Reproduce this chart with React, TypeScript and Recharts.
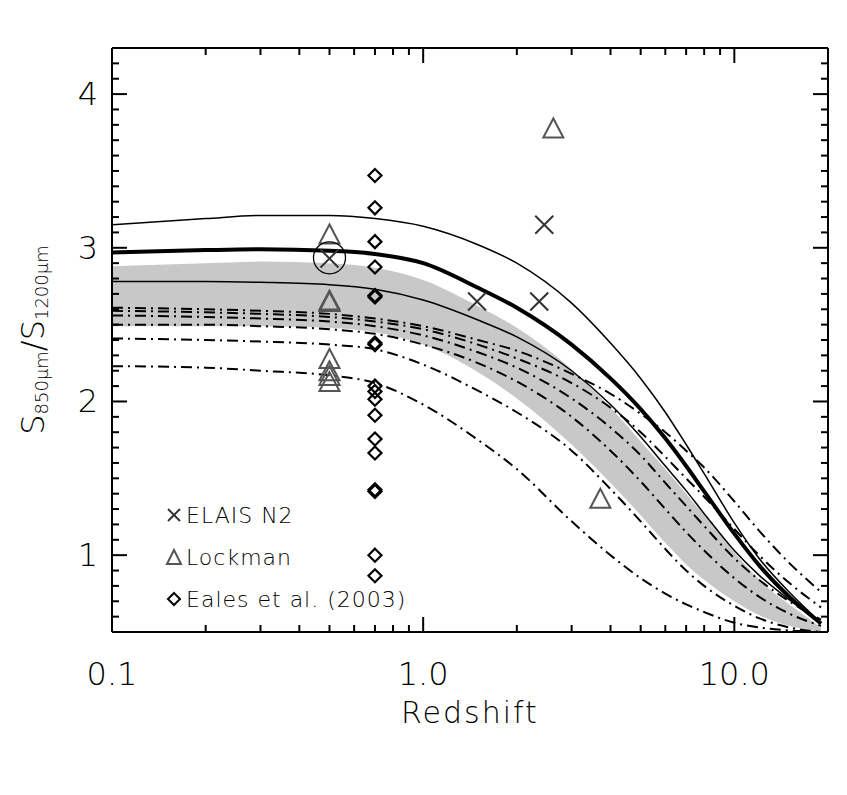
import React from 'react';
import { ComposedChart, Line, Area, Scatter, XAxis, YAxis, Legend } from 'recharts';

// Redshift sample points for the model curves
const Z = [0.1, 0.2, 0.3, 0.5, 0.7, 1, 1.5, 2, 3, 4, 5, 6, 7, 8, 10, 12, 15, 19];

// Model curves (S850/S1200 vs redshift)
const thinUpper = [3.15, 3.19, 3.21, 3.21, 3.19, 3.14, 3.02, 2.9, 2.64, 2.38, 2.15, 1.93, 1.72, 1.53, 1.21, 0.98, 0.76, 0.56];
const thickMid = [2.97, 2.985, 2.99, 2.98, 2.96, 2.9, 2.74, 2.61, 2.37, 2.15, 1.95, 1.76, 1.58, 1.415, 1.14, 0.935, 0.73, 0.555];
const thinLower = [2.78, 2.78, 2.775, 2.76, 2.73, 2.66, 2.53, 2.42, 2.2, 1.98, 1.77, 1.58, 1.42, 1.27, 1.03, 0.87, 0.71, 0.56];
const bandUpper = [2.88, 2.9, 2.91, 2.9, 2.87, 2.79, 2.62, 2.48, 2.21, 1.96, 1.74, 1.56, 1.4, 1.26, 1.02, 0.84, 0.68, 0.53];
const bandLower = [2.49, 2.49, 2.49, 2.48, 2.45, 2.37, 2.19, 2.02, 1.72, 1.47, 1.26, 1.08, 0.94, 0.84, 0.7, 0.61, 0.54, 0.5];
const dashDot1 = [2.61, 2.6, 2.59, 2.57, 2.54, 2.49, 2.4, 2.33, 2.18, 2.05, 1.92, 1.8, 1.68, 1.57, 1.35, 1.16, 0.95, 0.76];
const dashDot2 = [2.59, 2.58, 2.57, 2.55, 2.52, 2.47, 2.37, 2.28, 2.12, 1.96, 1.8, 1.64, 1.5, 1.38, 1.17, 1.0, 0.82, 0.66];
const dashDot3 = [2.56, 2.55, 2.54, 2.52, 2.49, 2.43, 2.32, 2.22, 2.02, 1.83, 1.65, 1.47, 1.32, 1.19, 0.98, 0.84, 0.7, 0.58];
const dashDot4 = [2.5, 2.5, 2.49, 2.47, 2.44, 2.37, 2.25, 2.13, 1.9, 1.68, 1.48, 1.3, 1.15, 1.03, 0.85, 0.73, 0.62, 0.54];
const dashDot5 = [2.41, 2.4, 2.39, 2.37, 2.34, 2.24, 2.07, 1.93, 1.68, 1.43, 1.22, 1.04, 0.9, 0.8, 0.67, 0.59, 0.53, 0.5];
const dashDot6 = [2.23, 2.22, 2.2, 2.17, 2.12, 1.98, 1.75, 1.56, 1.22, 1.0, 0.85, 0.75, 0.68, 0.63, 0.56, 0.53, 0.51, 0.5];

// Observations
const elaisZ = [0.5, 1.49, 2.36, 2.45];
const elaisR = [2.93, 2.65, 2.65, 3.15];
const lockmanZ = [0.5, 0.5, 0.5, 0.5, 0.5, 0.5, 0.5, 2.62, 3.71];
const lockmanR = [3.08, 2.65, 2.64, 2.27, 2.19, 2.16, 2.12, 3.77, 1.36];
const ealesZ = 0.7;
const ealesR = [3.47, 3.26, 3.04, 2.875, 2.68, 2.69, 2.37, 2.38, 2.1, 2.065, 2.015, 1.91, 1.756, 1.665, 1.415, 1.425, 1.0, 0.866];
const circledZ = [0.5];
const circledR = [2.935];

// Axes
const X_MAJOR = [0.1, 1, 10];
const X_MAJOR_LABELS = ['0.1', '1.0', '10.0'];
const X_TICKS = [0.1, 0.2, 0.3, 0.4, 0.5, 0.6, 0.7, 0.8, 0.9, 1, 2, 3, 4, 5, 6, 7, 8, 9, 10];
const Y_MAJOR = [1, 2, 3, 4];
const Y_MAJOR_LABELS = ['1', '2', '3', '4'];
const Y_TICKS: number[] = [];
for (let i = 6; i <= 43; i++) Y_TICKS.push(i / 10);

const FONT = '"DejaVu Sans", "Liberation Sans", sans-serif';
const FW = 200;

const rows = (ys: number[]) => Z.map((z, i) => ({ z, y: ys[i] }));
const bandRows = Z.map((z, i) => ({ z, band: [bandLower[i], bandUpper[i]] }));
const elaisRows = elaisZ.map((z, i) => ({ z, y: elaisR[i] }));
const lockmanRows = lockmanZ.map((z, i) => ({ z, y: lockmanR[i] }));
const ealesRows = ealesR.map((y) => ({ z: ealesZ, y }));
const circledRows = circledZ.map((z, i) => ({ z, y: circledR[i] }));

const isMajor = (v: number, list: number[]) => list.some((m) => Math.abs(m - v) < 1e-9);

const XTickBottom = (p: any) => {
  const { x, y, payload } = p;
  const idx = X_MAJOR.findIndex((m) => Math.abs(m - payload.value) < 1e-9);
  const major = idx >= 0;
  return (
    <g>
      <line x1={x} x2={x} y1={y} y2={y - (major ? 15 : 7)} stroke="#000" strokeWidth={2} />
      {major && (
        <text x={x} y={y + 53} textAnchor="middle" fontSize={32} fontWeight={FW} fontFamily={FONT} fill="#000">
          {X_MAJOR_LABELS[idx]}
        </text>
      )}
    </g>
  );
};

const XTickTop = (p: any) => {
  const { x, y, payload } = p;
  const major = isMajor(payload.value, X_MAJOR);
  return <line x1={x} x2={x} y1={y} y2={y + (major ? 15 : 7)} stroke="#000" strokeWidth={2} />;
};

const YTickLeft = (p: any) => {
  const { x, y, payload } = p;
  const idx = Y_MAJOR.findIndex((m) => Math.abs(m - payload.value) < 1e-9);
  const major = idx >= 0;
  return (
    <g>
      <line x1={x} x2={x + (major ? 15 : 7)} y1={y} y2={y} stroke="#000" strokeWidth={2} />
      {major && (
        <text x={x - 14} y={y + 11} textAnchor="end" fontSize={32} fontWeight={FW} fontFamily={FONT} fill="#000">
          {Y_MAJOR_LABELS[idx]}
        </text>
      )}
    </g>
  );
};

const YTickRight = (p: any) => {
  const { x, y, payload } = p;
  const major = isMajor(payload.value, Y_MAJOR);
  return <line x1={x} x2={x - (major ? 15 : 7)} y1={y} y2={y} stroke="#000" strokeWidth={2} />;
};

const XTitle = (p: any) => {
  const vb = p.viewBox || {};
  return (
    <text
      x={vb.x + vb.width / 2}
      y={vb.y + 91}
      textAnchor="middle"
      fontSize={30}
      fontWeight={FW}
      letterSpacing={2}
      fontFamily={FONT}
      fill="#000"
    >
      Redshift
    </text>
  );
};

const YTitle = (p: any) => {
  const vb = p.viewBox || {};
  const cx = vb.x - 19;
  const cy = vb.y + vb.height / 2;
  return (
    <text
      x={cx}
      y={cy}
      transform={`rotate(-90 ${cx} ${cy})`}
      textAnchor="middle"
      dominantBaseline="central"
      fontSize={32}
      fontWeight={FW}
      fontFamily={FONT}
      fill="#000"
    >
      S<tspan fontSize={18} dy={8}>850μm</tspan>
      <tspan fontSize={32} dy={-8}>/S</tspan>
      <tspan fontSize={18} dy={8}>1200μm</tspan>
    </text>
  );
};

const CrossShape = (p: any) => {
  const { cx, cy } = p;
  const s = 9;
  return (
    <g stroke="#333" strokeWidth={2}>
      <line x1={cx - s} y1={cy - s} x2={cx + s} y2={cy + s} />
      <line x1={cx - s} y1={cy + s} x2={cx + s} y2={cy - s} />
    </g>
  );
};

const TriangleShape = (p: any) => {
  const { cx, cy } = p;
  return (
    <polygon
      points={`${cx},${cy - 11} ${cx - 10},${cy + 8} ${cx + 10},${cy + 8}`}
      fill="none"
      stroke="#555"
      strokeWidth={2}
    />
  );
};

const DiamondShape = (p: any) => {
  const { cx, cy } = p;
  const s = 6.5;
  return (
    <polygon
      points={`${cx},${cy - s} ${cx + s},${cy} ${cx},${cy + s} ${cx - s},${cy}`}
      fill="none"
      stroke="#000"
      strokeWidth={2.2}
    />
  );
};

const CircleShape = (p: any) => {
  const { cx, cy } = p;
  return <circle cx={cx} cy={cy} r={16} fill="none" stroke="#000" strokeWidth={1.3} />;
};

const LegendContent = () => {
  const row: React.CSSProperties = {
    display: 'flex',
    alignItems: 'center',
    height: 42,
    fontFamily: FONT,
    fontWeight: FW,
    fontSize: 22,
    letterSpacing: 1,
    color: '#000',
    whiteSpace: 'nowrap',
  };
  return (
    <div>
      <div style={row}>
        <svg width={20} height={20} style={{ marginRight: 2 }}>
          <g stroke="#333" strokeWidth={2}>
            <line x1={4} y1={4} x2={16} y2={16} />
            <line x1={4} y1={16} x2={16} y2={4} />
          </g>
        </svg>
        ELAIS N2
      </div>
      <div style={row}>
        <svg width={20} height={20} style={{ marginRight: 2 }}>
          <polygon points="10,3 3,17 17,17" fill="none" stroke="#555" strokeWidth={2} />
        </svg>
        Lockman
      </div>
      <div style={row}>
        <svg width={20} height={20} style={{ marginRight: 2 }}>
          <polygon points="10,4 16,10 10,16 4,10" fill="none" stroke="#000" strokeWidth={2} />
        </svg>
        Eales et al. (2003)
      </div>
    </div>
  );
};

const DD = '11 5 2 5';

export default function App() {
  return (
    <div style={{ width: 847, height: 795, background: '#fff' }}>
      <style>{'body{margin:0;background:#fff}'}</style>
      <ComposedChart width={847} height={795} margin={{ top: 38, right: 9, bottom: 103, left: 52 }}>
        <XAxis
          xAxisId="bottom"
          dataKey="z"
          type="number"
          scale="log"
          domain={[0.1, 20]}
          allowDataOverflow
          ticks={X_TICKS}
          interval={0}
          tickSize={0}
          tickMargin={0}
          tickLine={false}
          tick={<XTickBottom />}
          axisLine={{ stroke: '#000', strokeWidth: 2 }}
          height={60}
          label={<XTitle />}
        />
        <XAxis
          xAxisId="top"
          orientation="top"
          dataKey="z"
          type="number"
          scale="log"
          domain={[0.1, 20]}
          allowDataOverflow
          ticks={X_TICKS}
          interval={0}
          tickSize={0}
          tickMargin={0}
          tickLine={false}
          tick={<XTickTop />}
          axisLine={{ stroke: '#000', strokeWidth: 2 }}
          height={10}
        />
        <YAxis
          yAxisId="left"
          dataKey="y"
          type="number"
          domain={[0.5, 4.3]}
          allowDataOverflow
          ticks={Y_TICKS}
          interval={0}
          tickSize={0}
          tickMargin={0}
          tickLine={false}
          tick={<YTickLeft />}
          axisLine={{ stroke: '#000', strokeWidth: 2 }}
          width={60}
          label={<YTitle />}
        />
        <YAxis
          yAxisId="right"
          orientation="right"
          dataKey="y"
          type="number"
          domain={[0.5, 4.3]}
          allowDataOverflow
          ticks={Y_TICKS}
          interval={0}
          tickSize={0}
          tickMargin={0}
          tickLine={false}
          tick={<YTickRight />}
          axisLine={{ stroke: '#000', strokeWidth: 2 }}
          width={10}
        />
        <Area
          xAxisId="bottom"
          yAxisId="left"
          data={bandRows}
          dataKey="band"
          type="monotone"
          stroke="none"
          fill="#c8c8c8"
          fillOpacity={1}
          isAnimationActive={false}
          legendType="none"
        />
        {[dashDot1, dashDot2, dashDot3, dashDot4, dashDot5, dashDot6].map((d, i) => (
          <Line
            key={'dd' + i}
            xAxisId="bottom"
            yAxisId="left"
            data={rows(d)}
            dataKey="y"
            type="monotone"
            stroke="#000"
            strokeWidth={2}
            strokeDasharray={DD}
            dot={false}
            isAnimationActive={false}
            legendType="none"
          />
        ))}
        <Line xAxisId="bottom" yAxisId="left" data={rows(thinUpper)} dataKey="y" type="monotone" stroke="#000" strokeWidth={1.5} dot={false} isAnimationActive={false} legendType="none" />
        <Line xAxisId="bottom" yAxisId="left" data={rows(thinLower)} dataKey="y" type="monotone" stroke="#000" strokeWidth={1.5} dot={false} isAnimationActive={false} legendType="none" />
        <Line xAxisId="bottom" yAxisId="left" data={rows(thickMid)} dataKey="y" type="monotone" stroke="#000" strokeWidth={4} dot={false} isAnimationActive={false} legendType="none" />
        <Scatter xAxisId="bottom" yAxisId="left" data={ealesRows} dataKey="y" shape={<DiamondShape />} isAnimationActive={false} legendType="none" />
        <Scatter xAxisId="bottom" yAxisId="left" data={lockmanRows} dataKey="y" shape={<TriangleShape />} isAnimationActive={false} legendType="none" />
        <Scatter xAxisId="bottom" yAxisId="left" data={elaisRows} dataKey="y" shape={<CrossShape />} isAnimationActive={false} legendType="none" />
        <Scatter xAxisId="bottom" yAxisId="left" data={circledRows} dataKey="y" shape={<CircleShape />} isAnimationActive={false} legendType="none" />
        <Legend
          layout="vertical"
          align="center"
          verticalAlign="middle"
          content={<LegendContent />}
          wrapperStyle={{ position: 'absolute', left: 164, top: 494, width: 'auto', height: 'auto' }}
        />
      </ComposedChart>
    </div>
  );
}
